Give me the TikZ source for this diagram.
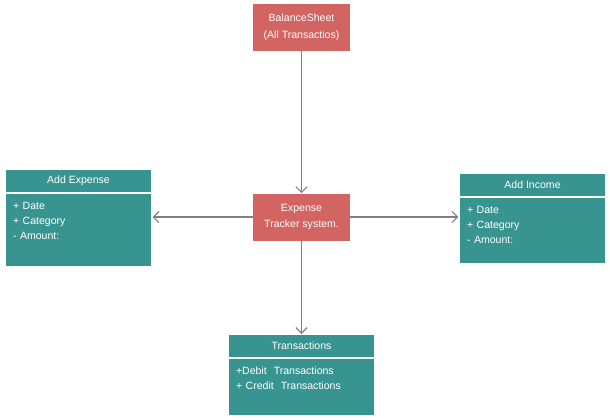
\documentclass[tikz,border=0pt]{standalone}
\usepackage{fontspec}
\setmainfont{Liberation Sans}
\usepackage{tikz}
\usetikzlibrary{arrows.meta,positioning,calc}
\definecolor{etred}{RGB}{210,100,98}
\definecolor{etteal}{RGB}{56,148,144}
\definecolor{etgris}{RGB}{128,128,128}

\begin{document}
\begin{tikzpicture}[
  sys/.style={rectangle, fill=etred, text=white, minimum width=2.425cm, minimum height=1.175cm,
              align=center, font=\fontsize{7.5}{12}\selectfont, inner sep=0pt},
  cls/.style={rectangle, draw=white, line width=0.8pt, fill=etteal, text=white,
              text width=3.275cm, inner xsep=0.2cm, inner ysep=0.2cm, text height=0.2cm,
              align=left, font=\fontsize{7.5}{10.6}\selectfont},
  clstitle/.style={rectangle, draw=white, line width=0.8pt, fill=etteal, text=white,
              minimum width=3.675cm, minimum height=0.575cm, inner sep=0pt,
              font=\fontsize{7.5}{9}\selectfont},
  link/.style={etgris, line width=0.85pt, -{Straight Barb[length=4pt, width=8pt]}}
]
  \useasboundingbox (0,0) rectangle (15.25,-10.475);

  % Systeme
  \node[sys] (bal) at (7.5375,-0.675) {BalanceSheet\\(All Transactios)};
  \node[sys] (trk) at (7.5375,-5.425) {Expense\\Tracker system.};

  % Add Expense
  \node[clstitle, anchor=north] (exp_t) at (1.9625,-4.225) {Add Expense};
  \node[cls, below=0pt of exp_t, text depth=1.225cm] (exp_b)
    {+ Date\\
     + Category\\
     - Amount:};

  % Add Income
  \node[clstitle, anchor=north] (inc_t) at (13.3125,-4.325) {Add Income};
  \node[cls, below=0pt of inc_t, text depth=1.05cm] (inc_b)
    {+ Date\\
     + Category\\
     - Amount:};

  % Transactions
  \node[clstitle, anchor=north] (tra_t) at (7.5375,-8.35) {Transactions};
  \node[cls, below=0pt of tra_t, text depth=0.825cm] (tra_b)
    {+Debit\ \ Transactions\\
     + Credit\ \ Transactions};

  % Relations
  \draw[link] (bal.south) -- (trk.north);
  \draw[link] (trk.west) -- (trk.west -| exp_b.east);
  \draw[link] (trk.east) -- (trk.east -| inc_b.west);
  \draw[link] (trk.south) -- (tra_t.north);
\end{tikzpicture}
\end{document}
